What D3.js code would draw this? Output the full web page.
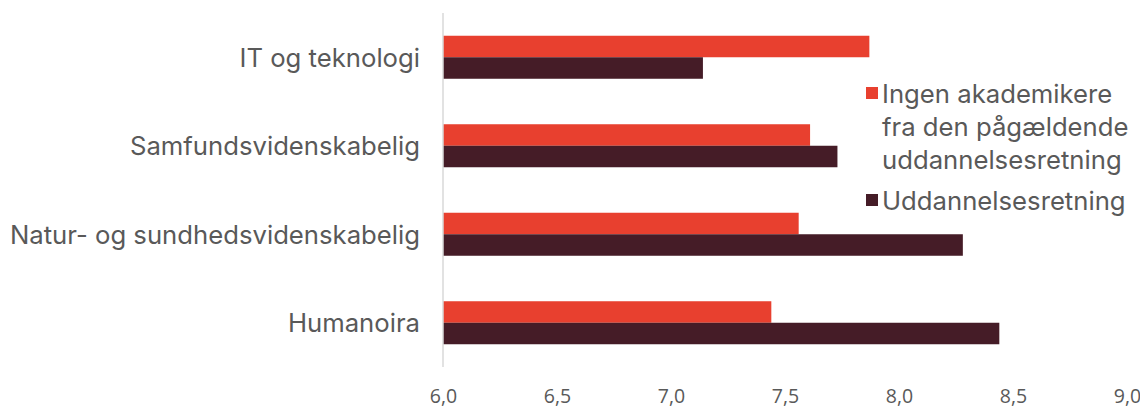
<!DOCTYPE html>
<html><head><meta charset="utf-8">
<script src="https://cdn.jsdelivr.net/npm/d3@7"></script>
<style>
body{margin:0;background:#fff;}
svg{display:block;}
</style></head>
<body>
<svg id="c" width="1140" height="409"></svg>
<script>
const categories = ["IT og teknologi","Samfundsvidenskabelig","Natur- og sundhedsvidenskabelig","Humanoira"];
const seriesNames = ["Ingen akademikere fra den pågældende uddannelsesretning","Uddannelsesretning"];
const seriesA = [7.87, 7.61, 7.56, 7.44];
const seriesB = [7.14, 7.73, 8.28, 8.44];
const ticks = [6.0, 6.5, 7.0, 7.5, 8.0, 8.5, 9.0];
const colors = ["#E8402F", "#451C27"];

const svg = d3.select("#c");
const x = d3.scaleLinear().domain([6, 9]).range([443, 1127]);
const y = d3.scaleBand().domain(categories).range([13, 367]).paddingInner(0.514).paddingOuter(0.257);
const sub = d3.scaleBand().domain([0,1]).range([0, y.bandwidth()]);

const data = categories.map((c,i)=>({c, vals:[seriesA[i], seriesB[i]]}));

const g = svg.append("g");
data.forEach(d=>{
  d.vals.forEach((v,k)=>{
    g.append("rect")
      .attr("x", x(6))
      .attr("y", y(d.c) + sub(k))
      .attr("width", x(v) - x(6))
      .attr("height", sub.bandwidth())
      .attr("fill", colors[k]);
  });
});

// vertical axis line
svg.append("line").attr("x1", x(6)).attr("x2", x(6)).attr("y1", 13).attr("y2", 367)
  .attr("stroke", "#d9d9d9").attr("stroke-width", 1.5);

const labelFont = "Inter, Roboto, sans-serif";
// category labels
svg.append("g").selectAll("text").data(categories).join("text")
  .attr("x", 420).attr("y", d=>y(d)+y.bandwidth()/2)
  .attr("text-anchor","end").attr("dominant-baseline","central")
  .attr("font-family",labelFont).attr("font-size", 25.7)
  .attr("fill","#595959").text(d=>d);

// x axis tick labels
const fmt = d3.format(".1f");
const xAxis = d3.axisBottom(x).tickValues(ticks).tickSize(0).tickPadding(0).tickFormat(d=>fmt(d).replace(".", ","));
const ax = svg.append("g").attr("transform","translate(0,0)").call(xAxis);
ax.select(".domain").remove();
ax.selectAll("text").attr("y", 403).attr("dy", 0)
  .attr("font-family","'Open Sans', sans-serif")
  .attr("font-size", 19.5).attr("fill","#595959");

// legend
const leg = svg.append("g");
const legendLines = [["Ingen akademikere","fra den pågældende","uddannelsesretning"],["Uddannelsesretning"]];
const legY = [93, 200];
legendLines.forEach((lines,k)=>{
  leg.append("rect").attr("x", 866).attr("y", legY[k]-6).attr("width", 12).attr("height", 12).attr("fill", colors[k]);
  lines.forEach((t,j)=>{
    leg.append("text").attr("x", 882).attr("y", legY[k] + j*33)
      .attr("dominant-baseline","central")
      .attr("font-family",labelFont).attr("font-size", 25.7)
      .attr("fill","#595959").text(t);
  });
});
</script>
</body></html>
